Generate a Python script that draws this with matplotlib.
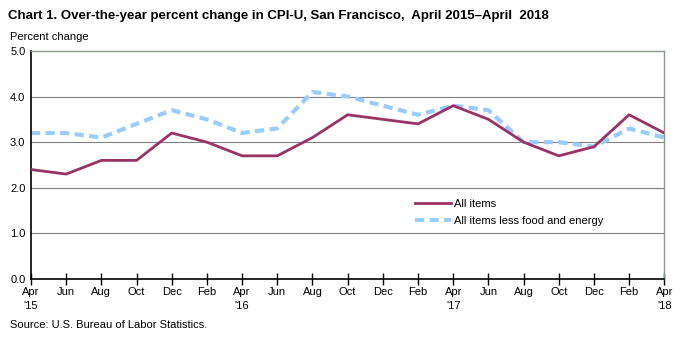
import matplotlib
matplotlib.use("Agg")
import matplotlib.pyplot as plt

plt.rcParams["font.family"] = ["Liberation Sans", "DejaVu Sans"]

months = ["Apr\n'15", "Jun", "Aug", "Oct", "Dec", "Feb", "Apr\n'16", "Jun", "Aug", "Oct",
          "Dec", "Feb", "Apr\n'17", "Jun", "Aug", "Oct", "Dec", "Feb", "Apr\n'18"]
all_items = [2.4, 2.3, 2.6, 2.6, 3.2, 3.0, 2.7, 2.7, 3.1, 3.6,
             3.5, 3.4, 3.8, 3.5, 3.0, 2.7, 2.9, 3.6, 3.2]
core = [3.2, 3.2, 3.1, 3.4, 3.7, 3.5, 3.2, 3.3, 4.1, 4.0,
        3.8, 3.6, 3.8, 3.7, 3.0, 3.0, 2.9, 3.3, 3.1]
yticks = [0.0, 1.0, 2.0, 3.0, 4.0, 5.0]

fig = plt.figure(figsize=(6.81, 3.37), dpi=100)
ax = fig.add_axes([0.0455, 0.172, 0.93, 0.677])

x = list(range(len(months)))
ax.plot(x, all_items, color="#993366", lw=2.0, label="All items", zorder=3)
ax.plot(x, core, color="#99CCFF", lw=3.0, ls=(0, (2.2, 1.3)),
        label="All items less food and energy", zorder=2)

ax.set_xlim(0, len(months) - 1)
ax.set_ylim(0, 5)
ax.set_yticks(yticks)
ax.set_yticklabels([f"{v:.1f}" for v in yticks], fontsize=8)
ax.set_xticks(x)
ax.set_xticklabels(months, fontsize=8, linespacing=1.5)
ax.tick_params(axis="y", length=0, pad=4)
ax.tick_params(axis="x", direction="inout", length=8, width=1, pad=2)
for v in yticks[1:-1]:
    ax.axhline(v, color="#808080", lw=0.8, zorder=1)

for side in ["top", "right"]:
    ax.spines[side].set_color("#8a9a8a")
    ax.spines[side].set_linewidth(1.0)
for side in ["left", "bottom"]:
    ax.spines[side].set_color("black")
    ax.spines[side].set_linewidth(1.2)

ax.legend(loc="upper left", bbox_to_anchor=(0.6, 0.37), frameon=False, fontsize=8,
          handlelength=3.2, handletextpad=0.3, labelspacing=0.6, borderaxespad=0)

fig.text(0.012, 0.953, "Chart 1. Over-the-year percent change in CPI-U, San Francisco,  April 2015\u2013April  2018",
         fontsize=9.5, fontweight="bold", va="center", ha="left")
fig.text(0.014, 0.89, "Percent change", fontsize=8, va="center", ha="left")
fig.text(0.014, 0.035, "Source: U.S. Bureau of Labor Statistics.", fontsize=8, va="center", ha="left")

fig.savefig("out.png", dpi=100)
